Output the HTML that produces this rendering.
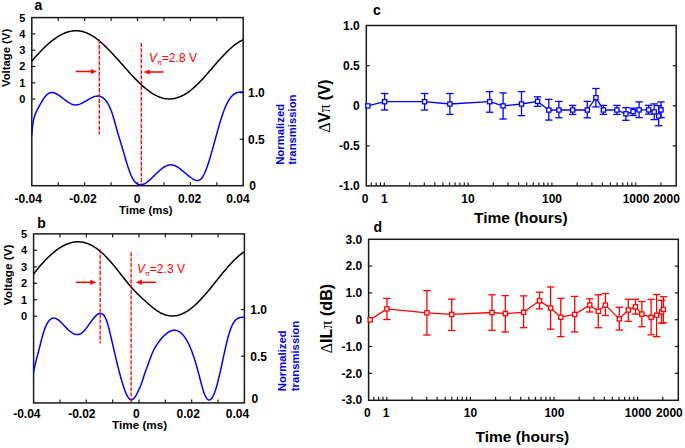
<!DOCTYPE html>
<html><head><meta charset="utf-8"><style>
html,body{margin:0;padding:0;background:#fff;}
body{width:685px;height:448px;overflow:hidden;}
svg{display:block;font-family:"Liberation Sans", sans-serif;}
</style></head><body>
<svg width="685" height="448" viewBox="0 0 685 448">
<rect width="685" height="448" fill="#fff"/>
<rect x="31.80" y="17.60" width="211.40" height="168.10" fill="none" stroke="#1a1a1a" stroke-width="1.5"/>
<line x1="58.22" y1="17.60" x2="58.22" y2="21.10" stroke="#1a1a1a" stroke-width="1.2" />
<line x1="58.22" y1="185.70" x2="58.22" y2="182.20" stroke="#1a1a1a" stroke-width="1.2" />
<line x1="84.65" y1="17.60" x2="84.65" y2="21.10" stroke="#1a1a1a" stroke-width="1.2" />
<line x1="84.65" y1="185.70" x2="84.65" y2="182.20" stroke="#1a1a1a" stroke-width="1.2" />
<line x1="111.07" y1="17.60" x2="111.07" y2="21.10" stroke="#1a1a1a" stroke-width="1.2" />
<line x1="111.07" y1="185.70" x2="111.07" y2="182.20" stroke="#1a1a1a" stroke-width="1.2" />
<line x1="137.50" y1="17.60" x2="137.50" y2="21.10" stroke="#1a1a1a" stroke-width="1.2" />
<line x1="137.50" y1="185.70" x2="137.50" y2="182.20" stroke="#1a1a1a" stroke-width="1.2" />
<line x1="163.93" y1="17.60" x2="163.93" y2="21.10" stroke="#1a1a1a" stroke-width="1.2" />
<line x1="163.93" y1="185.70" x2="163.93" y2="182.20" stroke="#1a1a1a" stroke-width="1.2" />
<line x1="190.35" y1="17.60" x2="190.35" y2="21.10" stroke="#1a1a1a" stroke-width="1.2" />
<line x1="190.35" y1="185.70" x2="190.35" y2="182.20" stroke="#1a1a1a" stroke-width="1.2" />
<line x1="216.77" y1="17.60" x2="216.77" y2="21.10" stroke="#1a1a1a" stroke-width="1.2" />
<line x1="216.77" y1="185.70" x2="216.77" y2="182.20" stroke="#1a1a1a" stroke-width="1.2" />
<line x1="31.80" y1="99.10" x2="35.30" y2="99.10" stroke="#1a1a1a" stroke-width="1.2" />
<text x="25.30" y="103.00" font-size="11" font-weight="bold" text-anchor="end" fill="#000000" >0</text>
<line x1="31.80" y1="82.80" x2="35.30" y2="82.80" stroke="#1a1a1a" stroke-width="1.2" />
<text x="25.30" y="86.70" font-size="11" font-weight="bold" text-anchor="end" fill="#000000" >1</text>
<line x1="31.80" y1="66.50" x2="35.30" y2="66.50" stroke="#1a1a1a" stroke-width="1.2" />
<text x="25.30" y="70.40" font-size="11" font-weight="bold" text-anchor="end" fill="#000000" >2</text>
<line x1="31.80" y1="50.20" x2="35.30" y2="50.20" stroke="#1a1a1a" stroke-width="1.2" />
<text x="25.30" y="54.10" font-size="11" font-weight="bold" text-anchor="end" fill="#000000" >3</text>
<line x1="31.80" y1="33.90" x2="35.30" y2="33.90" stroke="#1a1a1a" stroke-width="1.2" />
<text x="25.30" y="37.80" font-size="11" font-weight="bold" text-anchor="end" fill="#000000" >4</text>
<text x="25.30" y="21.50" font-size="11" font-weight="bold" text-anchor="end" fill="#000000" >5</text>
<line x1="243.20" y1="92.70" x2="239.70" y2="92.70" stroke="#1a1a1a" stroke-width="1.2" />
<text x="248.00" y="96.70" font-size="12" font-weight="bold" text-anchor="start" fill="#000000" >1.0</text>
<line x1="243.20" y1="139.20" x2="239.70" y2="139.20" stroke="#1a1a1a" stroke-width="1.2" />
<text x="248.00" y="143.70" font-size="12" font-weight="bold" text-anchor="start" fill="#000000" >0.5</text>
<text x="249.20" y="190.20" font-size="12" font-weight="bold" text-anchor="start" fill="#000000" >0</text>
<text x="28.30" y="202.60" font-size="12" font-weight="bold" text-anchor="middle" fill="#000000" >-0.04</text>
<text x="83.00" y="202.60" font-size="12" font-weight="bold" text-anchor="middle" fill="#000000" >-0.02</text>
<text x="137.10" y="202.60" font-size="12" font-weight="bold" text-anchor="middle" fill="#000000" >0</text>
<text x="189.60" y="202.60" font-size="12" font-weight="bold" text-anchor="middle" fill="#000000" >0.02</text>
<text x="237.90" y="202.60" font-size="12" font-weight="bold" text-anchor="middle" fill="#000000" >0.04</text>
<path d="M31.80,61.15 L33.21,59.49 L34.62,57.85 L36.03,56.25 L37.44,54.69 L38.85,53.15 L40.26,51.66 L41.67,50.20 L43.07,48.78 L44.48,47.40 L45.89,46.06 L47.30,44.77 L48.71,43.53 L50.12,42.33 L51.53,41.18 L52.94,40.08 L54.35,39.04 L55.76,38.04 L57.17,37.11 L58.58,36.23 L59.99,35.40 L61.40,34.64 L62.81,33.94 L64.21,33.31 L65.62,32.74 L67.03,32.23 L68.44,31.80 L69.85,31.43 L71.26,31.13 L72.67,30.91 L74.08,30.77 L75.49,30.69 L76.90,30.70 L78.31,30.79 L79.72,30.95 L81.13,31.20 L82.54,31.52 L83.95,31.92 L85.35,32.40 L86.76,32.95 L88.17,33.57 L89.58,34.26 L90.99,35.03 L92.40,35.86 L93.81,36.76 L95.22,37.73 L96.63,38.76 L98.04,39.86 L99.45,41.01 L100.86,42.21 L102.27,43.47 L103.68,44.77 L105.09,46.11 L106.49,47.49 L107.90,48.91 L109.31,50.35 L110.72,51.83 L112.13,53.33 L113.54,54.85 L114.95,56.39 L116.36,57.95 L117.77,59.51 L119.18,61.09 L120.59,62.68 L122.00,64.26 L123.41,65.85 L124.82,67.44 L126.23,69.01 L127.63,70.58 L129.04,72.14 L130.45,73.68 L131.86,75.20 L133.27,76.70 L134.68,78.18 L136.09,79.63 L137.50,81.04 L138.91,82.43 L140.32,83.77 L141.73,85.08 L143.14,86.34 L144.55,87.56 L145.96,88.74 L147.37,89.86 L148.77,90.93 L150.18,91.94 L151.59,92.89 L153.00,93.78 L154.41,94.61 L155.82,95.37 L157.23,96.06 L158.64,96.69 L160.05,97.24 L161.46,97.71 L162.87,98.11 L164.28,98.43 L165.69,98.67 L167.10,98.83 L168.51,98.91 L169.91,98.92 L171.32,98.84 L172.73,98.69 L174.14,98.46 L175.55,98.16 L176.96,97.78 L178.37,97.33 L179.78,96.81 L181.19,96.21 L182.60,95.54 L184.01,94.79 L185.42,93.98 L186.83,93.09 L188.24,92.14 L189.65,91.11 L191.05,90.02 L192.46,88.86 L193.87,87.64 L195.28,86.36 L196.69,85.02 L198.10,83.64 L199.51,82.21 L200.92,80.74 L202.33,79.24 L203.74,77.71 L205.15,76.14 L206.56,74.56 L207.97,72.95 L209.38,71.34 L210.79,69.71 L212.19,68.08 L213.60,66.45 L215.01,64.82 L216.42,63.20 L217.83,61.59 L219.24,60.01 L220.65,58.44 L222.06,56.90 L223.47,55.38 L224.88,53.91 L226.29,52.47 L227.70,51.07 L229.11,49.73 L230.52,48.44 L231.93,47.20 L233.33,46.02 L234.74,44.91 L236.15,43.87 L237.56,42.91 L238.97,42.02 L240.38,41.22 L241.79,40.51 L243.20,39.88" fill="none" stroke="#000000" stroke-width="1.5" stroke-linejoin="round"/>
<path d="M31.80,134.71 L32.50,126.73 L33.21,121.68 L33.91,118.44 L34.62,115.99 L35.32,113.99 L36.03,112.31 L36.73,110.86 L37.44,109.51 L38.14,108.18 L38.85,106.85 L39.55,105.54 L40.26,104.25 L40.96,102.99 L41.67,101.77 L42.37,100.60 L43.07,99.48 L43.78,98.42 L44.48,97.43 L45.19,96.52 L45.89,95.69 L46.60,94.95 L47.30,94.32 L48.01,93.78 L48.71,93.35 L49.42,93.02 L50.12,92.78 L50.83,92.62 L51.53,92.54 L52.24,92.54 L52.94,92.61 L53.64,92.75 L54.35,92.95 L55.05,93.20 L55.76,93.50 L56.46,93.85 L57.17,94.24 L57.87,94.66 L58.58,95.12 L59.28,95.60 L59.99,96.10 L60.69,96.62 L61.40,97.15 L62.10,97.68 L62.81,98.23 L63.51,98.78 L64.21,99.32 L64.92,99.86 L65.62,100.39 L66.33,100.91 L67.03,101.41 L67.74,101.90 L68.44,102.36 L69.15,102.79 L69.85,103.20 L70.56,103.57 L71.26,103.90 L71.97,104.20 L72.67,104.44 L73.38,104.65 L74.08,104.79 L74.78,104.89 L75.49,104.93 L76.19,104.91 L76.90,104.84 L77.60,104.72 L78.31,104.56 L79.01,104.36 L79.72,104.12 L80.42,103.85 L81.13,103.55 L81.83,103.22 L82.54,102.87 L83.24,102.49 L83.95,102.10 L84.65,101.70 L85.35,101.29 L86.06,100.87 L86.76,100.45 L87.47,100.02 L88.17,99.61 L88.88,99.19 L89.58,98.79 L90.29,98.41 L90.99,98.04 L91.70,97.69 L92.40,97.37 L93.11,97.07 L93.81,96.81 L94.52,96.58 L95.22,96.39 L95.92,96.24 L96.63,96.14 L97.33,96.08 L98.04,96.08 L98.74,96.13 L99.45,96.24 L100.15,96.41 L100.86,96.65 L101.56,96.95 L102.27,97.33 L102.97,97.79 L103.68,98.32 L104.38,98.95 L105.09,99.66 L105.79,100.48 L106.49,101.40 L107.20,102.43 L107.90,103.58 L108.61,104.86 L109.31,106.27 L110.02,107.82 L110.72,109.51 L111.43,111.35 L112.13,113.35 L112.84,115.52 L113.54,117.85 L114.25,120.31 L114.95,122.86 L115.66,125.44 L116.36,128.01 L117.06,130.51 L117.77,132.93 L118.47,135.26 L119.18,137.55 L119.88,139.82 L120.59,142.11 L121.29,144.43 L122.00,146.81 L122.70,149.22 L123.41,151.66 L124.11,154.10 L124.82,156.54 L125.52,158.95 L126.23,161.32 L126.93,163.63 L127.63,165.87 L128.34,168.02 L129.04,170.08 L129.75,172.01 L130.45,173.81 L131.16,175.46 L131.86,176.96 L132.57,178.30 L133.27,179.49 L133.98,180.54 L134.68,181.46 L135.39,182.25 L136.09,182.92 L136.80,183.47 L137.50,183.92 L138.20,184.27 L138.91,184.52 L139.61,184.68 L140.32,184.76 L141.02,184.76 L141.73,184.68 L142.43,184.54 L143.14,184.33 L143.84,184.06 L144.55,183.73 L145.25,183.35 L145.96,182.92 L146.66,182.44 L147.37,181.92 L148.07,181.37 L148.77,180.78 L149.48,180.17 L150.18,179.53 L150.89,178.87 L151.59,178.19 L152.30,177.50 L153.00,176.81 L153.71,176.11 L154.41,175.41 L155.12,174.71 L155.82,174.02 L156.53,173.34 L157.23,172.67 L157.94,172.00 L158.64,171.36 L159.34,170.73 L160.05,170.12 L160.75,169.53 L161.46,168.96 L162.16,168.42 L162.87,167.91 L163.57,167.43 L164.28,166.98 L164.98,166.57 L165.69,166.20 L166.39,165.86 L167.10,165.57 L167.80,165.32 L168.51,165.12 L169.21,164.96 L169.91,164.86 L170.62,164.81 L171.32,164.82 L172.03,164.89 L172.73,165.01 L173.44,165.18 L174.14,165.40 L174.85,165.67 L175.55,165.98 L176.26,166.33 L176.96,166.72 L177.67,167.14 L178.37,167.60 L179.08,168.08 L179.78,168.59 L180.48,169.12 L181.19,169.67 L181.89,170.23 L182.60,170.81 L183.30,171.40 L184.01,172.00 L184.71,172.61 L185.42,173.21 L186.12,173.81 L186.83,174.41 L187.53,175.00 L188.24,175.59 L188.94,176.15 L189.65,176.71 L190.35,177.24 L191.05,177.75 L191.76,178.24 L192.46,178.70 L193.17,179.12 L193.87,179.52 L194.58,179.86 L195.28,180.15 L195.99,180.37 L196.69,180.51 L197.40,180.56 L198.10,180.50 L198.81,180.32 L199.51,180.02 L200.22,179.58 L200.92,178.98 L201.62,178.22 L202.33,177.28 L203.03,176.17 L203.74,174.90 L204.44,173.47 L205.15,171.90 L205.85,170.19 L206.56,168.35 L207.26,166.41 L207.97,164.35 L208.67,162.21 L209.38,159.97 L210.08,157.67 L210.79,155.29 L211.49,152.86 L212.19,150.38 L212.90,147.86 L213.60,145.31 L214.31,142.74 L215.01,140.16 L215.72,137.58 L216.42,135.01 L217.13,132.45 L217.83,129.92 L218.54,127.43 L219.24,124.99 L219.95,122.61 L220.65,120.31 L221.36,118.09 L222.06,115.95 L222.76,113.90 L223.47,111.94 L224.17,110.07 L224.88,108.30 L225.58,106.62 L226.29,105.04 L226.99,103.55 L227.70,102.17 L228.40,100.89 L229.11,99.72 L229.81,98.65 L230.52,97.68 L231.22,96.81 L231.93,96.02 L232.63,95.32 L233.33,94.71 L234.04,94.17 L234.74,93.70 L235.45,93.30 L236.15,92.97 L236.86,92.69 L237.56,92.47 L238.27,92.30 L238.97,92.18 L239.68,92.09 L240.38,92.04 L241.09,92.03 L241.79,92.04 L242.50,92.07 L243.20,92.12" fill="none" stroke="#0000ff" stroke-width="1.5" stroke-linejoin="round"/>
<line x1="99.30" y1="39.50" x2="99.30" y2="134.20" stroke="#ff0000" stroke-width="1.3" stroke-dasharray="4,1.4"/>
<line x1="141.30" y1="42.90" x2="141.30" y2="185.00" stroke="#ff0000" stroke-width="1.3" stroke-dasharray="4,1.4"/>
<line x1="75.90" y1="71.50" x2="91.40" y2="71.50" stroke="#ff0000" stroke-width="1.5" />
<path d="M96.90,71.50 L90.90,68.90 L90.90,74.10 Z" fill="#ff0000"/>
<line x1="163.60" y1="72.00" x2="149.10" y2="72.00" stroke="#ff0000" stroke-width="1.5" />
<path d="M143.60,72.00 L149.60,69.40 L149.60,74.60 Z" fill="#ff0000"/>
<text x="34.40" y="9.70" font-size="14" font-weight="bold" text-anchor="start" fill="#000000" >a</text>
<text x="149.00" y="62.00" font-size="12" fill="#ff0000"><tspan font-style="italic">V</tspan><tspan font-size="7" dy="3">&#960;</tspan><tspan dy="-3">=2.8 V</tspan></text>
<text x="119.00" y="214.00" font-size="11.4" font-weight="bold" text-anchor="start" fill="#000000" >Time (ms)</text>
<text transform="translate(10.10,87.00) rotate(-90)" font-size="11.3" font-weight="bold" fill="#000000">Voltage (V)</text>
<text transform="translate(283.50,164.80) rotate(-90)" font-size="11.3" font-weight="bold" fill="#0000ff">Normalized</text>
<text transform="translate(295.70,164.80) rotate(-90)" font-size="11.3" font-weight="bold" fill="#0000ff">transmission</text>
<rect x="33.60" y="233.90" width="210.80" height="169.00" fill="none" stroke="#1a1a1a" stroke-width="1.5"/>
<line x1="59.95" y1="233.90" x2="59.95" y2="237.40" stroke="#1a1a1a" stroke-width="1.2" />
<line x1="59.95" y1="402.90" x2="59.95" y2="399.40" stroke="#1a1a1a" stroke-width="1.2" />
<line x1="86.30" y1="233.90" x2="86.30" y2="237.40" stroke="#1a1a1a" stroke-width="1.2" />
<line x1="86.30" y1="402.90" x2="86.30" y2="399.40" stroke="#1a1a1a" stroke-width="1.2" />
<line x1="112.65" y1="233.90" x2="112.65" y2="237.40" stroke="#1a1a1a" stroke-width="1.2" />
<line x1="112.65" y1="402.90" x2="112.65" y2="399.40" stroke="#1a1a1a" stroke-width="1.2" />
<line x1="139.00" y1="233.90" x2="139.00" y2="237.40" stroke="#1a1a1a" stroke-width="1.2" />
<line x1="139.00" y1="402.90" x2="139.00" y2="399.40" stroke="#1a1a1a" stroke-width="1.2" />
<line x1="165.35" y1="233.90" x2="165.35" y2="237.40" stroke="#1a1a1a" stroke-width="1.2" />
<line x1="165.35" y1="402.90" x2="165.35" y2="399.40" stroke="#1a1a1a" stroke-width="1.2" />
<line x1="191.70" y1="233.90" x2="191.70" y2="237.40" stroke="#1a1a1a" stroke-width="1.2" />
<line x1="191.70" y1="402.90" x2="191.70" y2="399.40" stroke="#1a1a1a" stroke-width="1.2" />
<line x1="218.05" y1="233.90" x2="218.05" y2="237.40" stroke="#1a1a1a" stroke-width="1.2" />
<line x1="218.05" y1="402.90" x2="218.05" y2="399.40" stroke="#1a1a1a" stroke-width="1.2" />
<line x1="33.60" y1="316.20" x2="37.10" y2="316.20" stroke="#1a1a1a" stroke-width="1.2" />
<text x="27.20" y="320.10" font-size="11" font-weight="bold" text-anchor="end" fill="#000000" >0</text>
<line x1="33.60" y1="299.74" x2="37.10" y2="299.74" stroke="#1a1a1a" stroke-width="1.2" />
<text x="27.20" y="303.64" font-size="11" font-weight="bold" text-anchor="end" fill="#000000" >1</text>
<line x1="33.60" y1="283.28" x2="37.10" y2="283.28" stroke="#1a1a1a" stroke-width="1.2" />
<text x="27.20" y="287.18" font-size="11" font-weight="bold" text-anchor="end" fill="#000000" >2</text>
<line x1="33.60" y1="266.82" x2="37.10" y2="266.82" stroke="#1a1a1a" stroke-width="1.2" />
<text x="27.20" y="270.72" font-size="11" font-weight="bold" text-anchor="end" fill="#000000" >3</text>
<line x1="33.60" y1="250.36" x2="37.10" y2="250.36" stroke="#1a1a1a" stroke-width="1.2" />
<text x="27.20" y="254.26" font-size="11" font-weight="bold" text-anchor="end" fill="#000000" >4</text>
<text x="27.20" y="237.80" font-size="11" font-weight="bold" text-anchor="end" fill="#000000" >5</text>
<line x1="244.40" y1="309.50" x2="240.90" y2="309.50" stroke="#1a1a1a" stroke-width="1.2" />
<text x="250.30" y="313.50" font-size="12" font-weight="bold" text-anchor="start" fill="#000000" >1.0</text>
<line x1="244.40" y1="356.20" x2="240.90" y2="356.20" stroke="#1a1a1a" stroke-width="1.2" />
<text x="250.30" y="361.20" font-size="12" font-weight="bold" text-anchor="start" fill="#000000" >0.5</text>
<text x="251.50" y="402.70" font-size="12" font-weight="bold" text-anchor="start" fill="#000000" >0</text>
<text x="26.85" y="417.60" font-size="12" font-weight="bold" text-anchor="middle" fill="#000000" >-0.04</text>
<text x="81.85" y="417.60" font-size="12" font-weight="bold" text-anchor="middle" fill="#000000" >-0.02</text>
<text x="136.30" y="417.60" font-size="12" font-weight="bold" text-anchor="middle" fill="#000000" >0</text>
<text x="188.25" y="417.60" font-size="12" font-weight="bold" text-anchor="middle" fill="#000000" >0.02</text>
<text x="237.55" y="417.60" font-size="12" font-weight="bold" text-anchor="middle" fill="#000000" >0.04</text>
<path d="M33.60,274.03 L35.01,272.21 L36.41,270.44 L37.82,268.70 L39.22,267.01 L40.63,265.36 L42.03,263.76 L43.44,262.20 L44.84,260.69 L46.25,259.23 L47.65,257.82 L49.06,256.46 L50.46,255.15 L51.87,253.90 L53.27,252.70 L54.68,251.55 L56.09,250.47 L57.49,249.44 L58.90,248.47 L60.30,247.56 L61.71,246.71 L63.11,245.93 L64.52,245.21 L65.92,244.56 L67.33,243.97 L68.73,243.45 L70.14,243.00 L71.54,242.62 L72.95,242.31 L74.35,242.07 L75.76,241.91 L77.17,241.82 L78.57,241.81 L79.98,241.88 L81.38,242.02 L82.79,242.25 L84.19,242.54 L85.60,242.92 L87.00,243.37 L88.41,243.90 L89.81,244.50 L91.22,245.18 L92.62,245.94 L94.03,246.77 L95.43,247.67 L96.84,248.65 L98.25,249.70 L99.65,250.82 L101.06,252.00 L102.46,253.26 L103.87,254.57 L105.27,255.95 L106.68,257.39 L108.08,258.89 L109.49,260.44 L110.89,262.05 L112.30,263.69 L113.70,265.38 L115.11,267.10 L116.51,268.84 L117.92,270.61 L119.33,272.39 L120.73,274.17 L122.14,275.96 L123.54,277.74 L124.95,279.51 L126.35,281.26 L127.76,282.99 L129.16,284.70 L130.57,286.36 L131.97,287.98 L133.38,289.56 L134.78,291.08 L136.19,292.54 L137.59,293.95 L139.00,295.32 L140.41,296.65 L141.81,297.95 L143.22,299.23 L144.62,300.50 L146.03,301.77 L147.43,303.03 L148.84,304.26 L150.24,305.47 L151.65,306.64 L153.05,307.77 L154.46,308.84 L155.86,309.87 L157.27,310.83 L158.67,311.72 L160.08,312.54 L161.49,313.28 L162.89,313.93 L164.30,314.49 L165.70,314.96 L167.11,315.34 L168.51,315.62 L169.92,315.82 L171.32,315.92 L172.73,315.94 L174.13,315.86 L175.54,315.71 L176.94,315.46 L178.35,315.14 L179.75,314.72 L181.16,314.23 L182.57,313.65 L183.97,313.00 L185.38,312.26 L186.78,311.44 L188.19,310.55 L189.59,309.58 L191.00,308.53 L192.40,307.41 L193.81,306.22 L195.21,304.97 L196.62,303.65 L198.02,302.27 L199.43,300.84 L200.83,299.36 L202.24,297.84 L203.65,296.27 L205.05,294.67 L206.46,293.03 L207.86,291.36 L209.27,289.67 L210.67,287.96 L212.08,286.24 L213.48,284.50 L214.89,282.75 L216.29,281.00 L217.70,279.25 L219.10,277.50 L220.51,275.77 L221.91,274.04 L223.32,272.34 L224.73,270.65 L226.13,268.99 L227.54,267.36 L228.94,265.76 L230.35,264.20 L231.75,262.68 L233.16,261.21 L234.56,259.79 L235.97,258.42 L237.37,257.11 L238.78,255.86 L240.18,254.68 L241.59,253.57 L242.99,252.54 L244.40,251.59" fill="none" stroke="#000000" stroke-width="1.5" stroke-linejoin="round"/>
<path d="M33.60,372.42 L34.30,368.65 L35.01,365.29 L35.71,362.25 L36.41,359.44 L37.11,356.78 L37.82,354.18 L38.52,351.56 L39.22,348.82 L39.92,345.97 L40.63,343.09 L41.33,340.27 L42.03,337.60 L42.73,335.09 L43.44,332.75 L44.14,330.60 L44.84,328.63 L45.55,326.87 L46.25,325.28 L46.95,323.88 L47.65,322.65 L48.36,321.59 L49.06,320.68 L49.76,319.92 L50.46,319.30 L51.17,318.83 L51.87,318.47 L52.57,318.24 L53.27,318.12 L53.98,318.11 L54.68,318.20 L55.38,318.38 L56.09,318.64 L56.79,318.98 L57.49,319.39 L58.19,319.87 L58.90,320.41 L59.60,320.99 L60.30,321.62 L61.00,322.29 L61.71,322.99 L62.41,323.71 L63.11,324.45 L63.81,325.20 L64.52,325.95 L65.22,326.69 L65.92,327.43 L66.63,328.15 L67.33,328.85 L68.03,329.53 L68.73,330.17 L69.44,330.79 L70.14,331.37 L70.84,331.92 L71.54,332.42 L72.25,332.88 L72.95,333.30 L73.65,333.66 L74.35,333.97 L75.06,334.22 L75.76,334.40 L76.46,334.53 L77.17,334.58 L77.87,334.57 L78.57,334.48 L79.27,334.31 L79.98,334.07 L80.68,333.73 L81.38,333.31 L82.08,332.80 L82.79,332.20 L83.49,331.53 L84.19,330.79 L84.89,329.99 L85.60,329.13 L86.30,328.23 L87.00,327.29 L87.71,326.33 L88.41,325.34 L89.11,324.35 L89.81,323.35 L90.52,322.35 L91.22,321.36 L91.92,320.40 L92.62,319.46 L93.33,318.57 L94.03,317.71 L94.73,316.91 L95.43,316.17 L96.14,315.50 L96.84,314.91 L97.54,314.40 L98.25,313.99 L98.95,313.67 L99.65,313.47 L100.35,313.39 L101.06,313.43 L101.76,313.62 L102.46,313.98 L103.16,314.53 L103.87,315.29 L104.57,316.29 L105.27,317.53 L105.97,319.05 L106.68,320.86 L107.38,322.97 L108.08,325.35 L108.79,327.95 L109.49,330.73 L110.19,333.64 L110.89,336.65 L111.60,339.71 L112.30,342.78 L113.00,345.84 L113.70,348.90 L114.41,351.93 L115.11,354.94 L115.81,357.92 L116.51,360.85 L117.22,363.75 L117.92,366.59 L118.62,369.37 L119.33,372.08 L120.03,374.72 L120.73,377.28 L121.43,379.76 L122.14,382.14 L122.84,384.42 L123.54,386.59 L124.24,388.64 L124.95,390.57 L125.65,392.35 L126.35,393.97 L127.05,395.43 L127.76,396.70 L128.46,397.78 L129.16,398.65 L129.87,399.30 L130.57,399.71 L131.27,399.88 L131.97,399.80 L132.68,399.48 L133.38,398.95 L134.08,398.23 L134.78,397.33 L135.49,396.27 L136.19,395.09 L136.89,393.79 L137.59,392.40 L138.30,390.94 L139.00,389.43 L139.70,387.88 L140.41,386.25 L141.11,384.49 L141.81,382.56 L142.51,380.45 L143.22,378.23 L143.92,376.00 L144.62,373.87 L145.32,371.85 L146.03,369.92 L146.73,368.03 L147.43,366.16 L148.13,364.25 L148.84,362.30 L149.54,360.33 L150.24,358.38 L150.95,356.48 L151.65,354.69 L152.35,353.02 L153.05,351.46 L153.76,350.02 L154.46,348.67 L155.16,347.42 L155.86,346.24 L156.57,345.13 L157.27,344.08 L157.97,343.08 L158.67,342.12 L159.38,341.19 L160.08,340.29 L160.78,339.41 L161.49,338.57 L162.19,337.76 L162.89,336.98 L163.59,336.24 L164.30,335.54 L165.00,334.87 L165.70,334.24 L166.40,333.65 L167.11,333.10 L167.81,332.60 L168.51,332.14 L169.21,331.73 L169.92,331.36 L170.62,331.05 L171.32,330.78 L172.03,330.57 L172.73,330.40 L173.43,330.29 L174.13,330.24 L174.84,330.25 L175.54,330.31 L176.24,330.43 L176.94,330.62 L177.65,330.86 L178.35,331.17 L179.05,331.55 L179.75,331.99 L180.46,332.50 L181.16,333.08 L181.86,333.73 L182.57,334.46 L183.27,335.25 L183.97,336.12 L184.67,337.07 L185.38,338.10 L186.08,339.20 L186.78,340.38 L187.48,341.65 L188.19,343.00 L188.89,344.44 L189.59,345.96 L190.29,347.56 L191.00,349.26 L191.70,351.05 L192.40,352.92 L193.11,354.89 L193.81,356.96 L194.51,359.12 L195.21,361.37 L195.92,363.70 L196.62,366.12 L197.32,368.63 L198.02,371.20 L198.73,373.86 L199.43,376.56 L200.13,379.28 L200.83,381.98 L201.54,384.61 L202.24,387.15 L202.94,389.54 L203.65,391.76 L204.35,393.76 L205.05,395.51 L205.75,396.98 L206.46,398.15 L207.16,399.04 L207.86,399.65 L208.56,399.99 L209.27,400.06 L209.97,399.88 L210.67,399.44 L211.37,398.75 L212.08,397.82 L212.78,396.66 L213.48,395.26 L214.19,393.64 L214.89,391.80 L215.59,389.75 L216.29,387.50 L217.00,385.05 L217.70,382.41 L218.40,379.63 L219.10,376.71 L219.81,373.67 L220.51,370.55 L221.21,367.36 L221.91,364.12 L222.62,360.86 L223.32,357.60 L224.02,354.35 L224.73,351.15 L225.43,348.02 L226.13,344.97 L226.83,342.03 L227.54,339.22 L228.24,336.56 L228.94,334.08 L229.64,331.79 L230.35,329.72 L231.05,327.86 L231.75,326.20 L232.45,324.72 L233.16,323.42 L233.86,322.29 L234.56,321.30 L235.27,320.46 L235.97,319.75 L236.67,319.16 L237.37,318.67 L238.08,318.28 L238.78,317.98 L239.48,317.75 L240.18,317.57 L240.89,317.45 L241.59,317.37 L242.29,317.31 L242.99,317.27 L243.70,317.24 L244.40,317.19" fill="none" stroke="#0000ff" stroke-width="1.5" stroke-linejoin="round"/>
<line x1="100.20" y1="249.40" x2="100.20" y2="343.40" stroke="#ff0000" stroke-width="1.3" stroke-dasharray="4,1.4"/>
<line x1="131.10" y1="252.20" x2="131.10" y2="402.00" stroke="#ff0000" stroke-width="1.3" stroke-dasharray="4,1.4"/>
<line x1="75.90" y1="282.30" x2="90.80" y2="282.30" stroke="#ff0000" stroke-width="1.5" />
<path d="M96.30,282.30 L90.30,279.70 L90.30,284.90 Z" fill="#ff0000"/>
<line x1="156.20" y1="282.30" x2="141.30" y2="282.30" stroke="#ff0000" stroke-width="1.5" />
<path d="M135.80,282.30 L141.80,279.70 L141.80,284.90 Z" fill="#ff0000"/>
<text x="37.30" y="228.00" font-size="14" font-weight="bold" text-anchor="start" fill="#000000" >b</text>
<text x="137.00" y="273.40" font-size="12" fill="#ff0000"><tspan font-style="italic">V</tspan><tspan font-size="7" dy="3">&#960;</tspan><tspan dy="-3">=2.3 V</tspan></text>
<text x="112.10" y="428.60" font-size="11.7" font-weight="bold" text-anchor="start" fill="#000000" >Time (ms)</text>
<text transform="translate(11.70,305.20) rotate(-90)" font-size="11.8" font-weight="bold" fill="#000000">Voltage (V)</text>
<text transform="translate(286.30,391.20) rotate(-90)" font-size="11.3" font-weight="bold" fill="#0000ff">Normalized</text>
<text transform="translate(298.50,391.20) rotate(-90)" font-size="11.3" font-weight="bold" fill="#0000ff">transmission</text>
<rect x="366.30" y="25.50" width="309.90" height="160.40" fill="none" stroke="#1a1a1a" stroke-width="1.5"/>
<line x1="371.32" y1="185.90" x2="371.32" y2="182.40" stroke="#1a1a1a" stroke-width="1.2" />
<line x1="376.18" y1="185.90" x2="376.18" y2="182.40" stroke="#1a1a1a" stroke-width="1.2" />
<line x1="380.47" y1="185.90" x2="380.47" y2="182.40" stroke="#1a1a1a" stroke-width="1.2" />
<line x1="384.30" y1="185.90" x2="384.30" y2="182.40" stroke="#1a1a1a" stroke-width="1.2" />
<line x1="409.53" y1="185.90" x2="409.53" y2="182.40" stroke="#1a1a1a" stroke-width="1.2" />
<line x1="424.28" y1="185.90" x2="424.28" y2="182.40" stroke="#1a1a1a" stroke-width="1.2" />
<line x1="434.75" y1="185.90" x2="434.75" y2="182.40" stroke="#1a1a1a" stroke-width="1.2" />
<line x1="442.87" y1="185.90" x2="442.87" y2="182.40" stroke="#1a1a1a" stroke-width="1.2" />
<line x1="449.51" y1="185.90" x2="449.51" y2="182.40" stroke="#1a1a1a" stroke-width="1.2" />
<line x1="455.12" y1="185.90" x2="455.12" y2="182.40" stroke="#1a1a1a" stroke-width="1.2" />
<line x1="459.98" y1="185.90" x2="459.98" y2="182.40" stroke="#1a1a1a" stroke-width="1.2" />
<line x1="464.27" y1="185.90" x2="464.27" y2="182.40" stroke="#1a1a1a" stroke-width="1.2" />
<line x1="468.10" y1="185.90" x2="468.10" y2="182.40" stroke="#1a1a1a" stroke-width="1.2" />
<line x1="493.33" y1="185.90" x2="493.33" y2="182.40" stroke="#1a1a1a" stroke-width="1.2" />
<line x1="508.08" y1="185.90" x2="508.08" y2="182.40" stroke="#1a1a1a" stroke-width="1.2" />
<line x1="518.55" y1="185.90" x2="518.55" y2="182.40" stroke="#1a1a1a" stroke-width="1.2" />
<line x1="526.67" y1="185.90" x2="526.67" y2="182.40" stroke="#1a1a1a" stroke-width="1.2" />
<line x1="533.31" y1="185.90" x2="533.31" y2="182.40" stroke="#1a1a1a" stroke-width="1.2" />
<line x1="538.92" y1="185.90" x2="538.92" y2="182.40" stroke="#1a1a1a" stroke-width="1.2" />
<line x1="543.78" y1="185.90" x2="543.78" y2="182.40" stroke="#1a1a1a" stroke-width="1.2" />
<line x1="548.07" y1="185.90" x2="548.07" y2="182.40" stroke="#1a1a1a" stroke-width="1.2" />
<line x1="551.90" y1="185.90" x2="551.90" y2="182.40" stroke="#1a1a1a" stroke-width="1.2" />
<line x1="577.13" y1="185.90" x2="577.13" y2="182.40" stroke="#1a1a1a" stroke-width="1.2" />
<line x1="591.88" y1="185.90" x2="591.88" y2="182.40" stroke="#1a1a1a" stroke-width="1.2" />
<line x1="602.35" y1="185.90" x2="602.35" y2="182.40" stroke="#1a1a1a" stroke-width="1.2" />
<line x1="610.47" y1="185.90" x2="610.47" y2="182.40" stroke="#1a1a1a" stroke-width="1.2" />
<line x1="617.11" y1="185.90" x2="617.11" y2="182.40" stroke="#1a1a1a" stroke-width="1.2" />
<line x1="622.72" y1="185.90" x2="622.72" y2="182.40" stroke="#1a1a1a" stroke-width="1.2" />
<line x1="627.58" y1="185.90" x2="627.58" y2="182.40" stroke="#1a1a1a" stroke-width="1.2" />
<line x1="631.87" y1="185.90" x2="631.87" y2="182.40" stroke="#1a1a1a" stroke-width="1.2" />
<line x1="635.70" y1="185.90" x2="635.70" y2="182.40" stroke="#1a1a1a" stroke-width="1.2" />
<line x1="660.93" y1="185.90" x2="660.93" y2="182.40" stroke="#1a1a1a" stroke-width="1.2" />
<line x1="366.30" y1="65.70" x2="369.80" y2="65.70" stroke="#1a1a1a" stroke-width="1.2" />
<line x1="676.20" y1="65.70" x2="672.70" y2="65.70" stroke="#1a1a1a" stroke-width="1.2" />
<line x1="366.30" y1="105.80" x2="369.80" y2="105.80" stroke="#1a1a1a" stroke-width="1.2" />
<line x1="676.20" y1="105.80" x2="672.70" y2="105.80" stroke="#1a1a1a" stroke-width="1.2" />
<line x1="366.30" y1="145.90" x2="369.80" y2="145.90" stroke="#1a1a1a" stroke-width="1.2" />
<line x1="676.20" y1="145.90" x2="672.70" y2="145.90" stroke="#1a1a1a" stroke-width="1.2" />
<text x="359.70" y="29.80" font-size="12" font-weight="bold" text-anchor="end" fill="#000000" >1.0</text>
<text x="359.70" y="69.90" font-size="12" font-weight="bold" text-anchor="end" fill="#000000" >0.5</text>
<text x="359.70" y="110.00" font-size="12" font-weight="bold" text-anchor="end" fill="#000000" >0</text>
<text x="359.70" y="150.10" font-size="12" font-weight="bold" text-anchor="end" fill="#000000" >-0.5</text>
<text x="359.70" y="190.20" font-size="12" font-weight="bold" text-anchor="end" fill="#000000" >-1.0</text>
<text x="365.00" y="202.90" font-size="12" font-weight="bold" text-anchor="middle" fill="#000000" >0</text>
<text x="384.30" y="202.90" font-size="12" font-weight="bold" text-anchor="middle" fill="#000000" >1</text>
<text x="468.00" y="202.90" font-size="12" font-weight="bold" text-anchor="middle" fill="#000000" >10</text>
<text x="552.00" y="202.90" font-size="12" font-weight="bold" text-anchor="middle" fill="#000000" >100</text>
<text x="636.00" y="202.90" font-size="12" font-weight="bold" text-anchor="middle" fill="#000000" >1000</text>
<text x="666.50" y="202.90" font-size="12" font-weight="bold" text-anchor="middle" fill="#000000" >2000</text>
<path d="M367.90,105.90 L384.60,101.70 L424.60,101.70 L449.90,104.00 L489.70,101.70 L503.10,105.90 L521.50,104.00 L537.60,101.40 L548.80,110.00 L558.90,110.00 L572.70,110.00 L587.30,110.00 L595.90,97.70 L603.40,110.00 L616.90,110.00 L625.90,113.80 L633.10,111.60 L639.10,109.90 L648.60,109.90 L654.20,111.90 L658.70,115.90 L661.00,109.90" fill="none" stroke="#0000ff" stroke-width="1.3" stroke-linejoin="round"/>
<line x1="384.60" y1="93.50" x2="384.60" y2="110.00" stroke="#0000ff" stroke-width="1.3" />
<line x1="380.90" y1="93.50" x2="388.30" y2="93.50" stroke="#0000ff" stroke-width="1.3" />
<line x1="380.90" y1="110.00" x2="388.30" y2="110.00" stroke="#0000ff" stroke-width="1.3" />
<line x1="424.60" y1="93.50" x2="424.60" y2="110.00" stroke="#0000ff" stroke-width="1.3" />
<line x1="420.90" y1="93.50" x2="428.30" y2="93.50" stroke="#0000ff" stroke-width="1.3" />
<line x1="420.90" y1="110.00" x2="428.30" y2="110.00" stroke="#0000ff" stroke-width="1.3" />
<line x1="449.90" y1="93.50" x2="449.90" y2="114.40" stroke="#0000ff" stroke-width="1.3" />
<line x1="446.20" y1="93.50" x2="453.60" y2="93.50" stroke="#0000ff" stroke-width="1.3" />
<line x1="446.20" y1="114.40" x2="453.60" y2="114.40" stroke="#0000ff" stroke-width="1.3" />
<line x1="489.70" y1="91.60" x2="489.70" y2="112.20" stroke="#0000ff" stroke-width="1.3" />
<line x1="486.00" y1="91.60" x2="493.40" y2="91.60" stroke="#0000ff" stroke-width="1.3" />
<line x1="486.00" y1="112.20" x2="493.40" y2="112.20" stroke="#0000ff" stroke-width="1.3" />
<line x1="503.10" y1="92.90" x2="503.10" y2="119.00" stroke="#0000ff" stroke-width="1.3" />
<line x1="499.40" y1="92.90" x2="506.80" y2="92.90" stroke="#0000ff" stroke-width="1.3" />
<line x1="499.40" y1="119.00" x2="506.80" y2="119.00" stroke="#0000ff" stroke-width="1.3" />
<line x1="521.50" y1="91.60" x2="521.50" y2="115.70" stroke="#0000ff" stroke-width="1.3" />
<line x1="517.80" y1="91.60" x2="525.20" y2="91.60" stroke="#0000ff" stroke-width="1.3" />
<line x1="517.80" y1="115.70" x2="525.20" y2="115.70" stroke="#0000ff" stroke-width="1.3" />
<line x1="537.60" y1="96.80" x2="537.60" y2="106.30" stroke="#0000ff" stroke-width="1.3" />
<line x1="533.90" y1="96.80" x2="541.30" y2="96.80" stroke="#0000ff" stroke-width="1.3" />
<line x1="533.90" y1="106.30" x2="541.30" y2="106.30" stroke="#0000ff" stroke-width="1.3" />
<line x1="548.80" y1="99.40" x2="548.80" y2="120.10" stroke="#0000ff" stroke-width="1.3" />
<line x1="545.10" y1="99.40" x2="552.50" y2="99.40" stroke="#0000ff" stroke-width="1.3" />
<line x1="545.10" y1="120.10" x2="552.50" y2="120.10" stroke="#0000ff" stroke-width="1.3" />
<line x1="558.90" y1="101.40" x2="558.90" y2="117.80" stroke="#0000ff" stroke-width="1.3" />
<line x1="555.20" y1="101.40" x2="562.60" y2="101.40" stroke="#0000ff" stroke-width="1.3" />
<line x1="555.20" y1="117.80" x2="562.60" y2="117.80" stroke="#0000ff" stroke-width="1.3" />
<line x1="572.70" y1="105.40" x2="572.70" y2="114.40" stroke="#0000ff" stroke-width="1.3" />
<line x1="569.00" y1="105.40" x2="576.40" y2="105.40" stroke="#0000ff" stroke-width="1.3" />
<line x1="569.00" y1="114.40" x2="576.40" y2="114.40" stroke="#0000ff" stroke-width="1.3" />
<line x1="587.30" y1="101.40" x2="587.30" y2="117.80" stroke="#0000ff" stroke-width="1.3" />
<line x1="583.60" y1="101.40" x2="591.00" y2="101.40" stroke="#0000ff" stroke-width="1.3" />
<line x1="583.60" y1="117.80" x2="591.00" y2="117.80" stroke="#0000ff" stroke-width="1.3" />
<line x1="595.90" y1="88.50" x2="595.90" y2="106.90" stroke="#0000ff" stroke-width="1.3" />
<line x1="592.20" y1="88.50" x2="599.60" y2="88.50" stroke="#0000ff" stroke-width="1.3" />
<line x1="592.20" y1="106.90" x2="599.60" y2="106.90" stroke="#0000ff" stroke-width="1.3" />
<line x1="603.40" y1="105.40" x2="603.40" y2="114.40" stroke="#0000ff" stroke-width="1.3" />
<line x1="599.70" y1="105.40" x2="607.10" y2="105.40" stroke="#0000ff" stroke-width="1.3" />
<line x1="599.70" y1="114.40" x2="607.10" y2="114.40" stroke="#0000ff" stroke-width="1.3" />
<line x1="616.90" y1="105.40" x2="616.90" y2="114.40" stroke="#0000ff" stroke-width="1.3" />
<line x1="613.20" y1="105.40" x2="620.60" y2="105.40" stroke="#0000ff" stroke-width="1.3" />
<line x1="613.20" y1="114.40" x2="620.60" y2="114.40" stroke="#0000ff" stroke-width="1.3" />
<line x1="625.90" y1="107.60" x2="625.90" y2="120.30" stroke="#0000ff" stroke-width="1.3" />
<line x1="622.20" y1="107.60" x2="629.60" y2="107.60" stroke="#0000ff" stroke-width="1.3" />
<line x1="622.20" y1="120.30" x2="629.60" y2="120.30" stroke="#0000ff" stroke-width="1.3" />
<line x1="633.10" y1="108.20" x2="633.10" y2="115.50" stroke="#0000ff" stroke-width="1.3" />
<line x1="629.40" y1="108.20" x2="636.80" y2="108.20" stroke="#0000ff" stroke-width="1.3" />
<line x1="629.40" y1="115.50" x2="636.80" y2="115.50" stroke="#0000ff" stroke-width="1.3" />
<line x1="639.10" y1="101.90" x2="639.10" y2="117.60" stroke="#0000ff" stroke-width="1.3" />
<line x1="635.40" y1="101.90" x2="642.80" y2="101.90" stroke="#0000ff" stroke-width="1.3" />
<line x1="635.40" y1="117.60" x2="642.80" y2="117.60" stroke="#0000ff" stroke-width="1.3" />
<line x1="648.60" y1="105.40" x2="648.60" y2="114.10" stroke="#0000ff" stroke-width="1.3" />
<line x1="644.90" y1="105.40" x2="652.30" y2="105.40" stroke="#0000ff" stroke-width="1.3" />
<line x1="644.90" y1="114.10" x2="652.30" y2="114.10" stroke="#0000ff" stroke-width="1.3" />
<line x1="654.20" y1="103.90" x2="654.20" y2="119.60" stroke="#0000ff" stroke-width="1.3" />
<line x1="650.50" y1="103.90" x2="657.90" y2="103.90" stroke="#0000ff" stroke-width="1.3" />
<line x1="650.50" y1="119.60" x2="657.90" y2="119.60" stroke="#0000ff" stroke-width="1.3" />
<line x1="658.70" y1="105.60" x2="658.70" y2="125.70" stroke="#0000ff" stroke-width="1.3" />
<line x1="655.00" y1="105.60" x2="662.40" y2="105.60" stroke="#0000ff" stroke-width="1.3" />
<line x1="655.00" y1="125.70" x2="662.40" y2="125.70" stroke="#0000ff" stroke-width="1.3" />
<line x1="661.00" y1="101.90" x2="661.00" y2="117.60" stroke="#0000ff" stroke-width="1.3" />
<line x1="657.30" y1="101.90" x2="664.70" y2="101.90" stroke="#0000ff" stroke-width="1.3" />
<line x1="657.30" y1="117.60" x2="664.70" y2="117.60" stroke="#0000ff" stroke-width="1.3" />
<rect x="365.80" y="103.80" width="4.2" height="4.2" fill="#fff" stroke="#0000ff" stroke-width="1.3"/>
<rect x="382.50" y="99.60" width="4.2" height="4.2" fill="#fff" stroke="#0000ff" stroke-width="1.3"/>
<rect x="422.50" y="99.60" width="4.2" height="4.2" fill="#fff" stroke="#0000ff" stroke-width="1.3"/>
<rect x="447.80" y="101.90" width="4.2" height="4.2" fill="#fff" stroke="#0000ff" stroke-width="1.3"/>
<rect x="487.60" y="99.60" width="4.2" height="4.2" fill="#fff" stroke="#0000ff" stroke-width="1.3"/>
<rect x="501.00" y="103.80" width="4.2" height="4.2" fill="#fff" stroke="#0000ff" stroke-width="1.3"/>
<rect x="519.40" y="101.90" width="4.2" height="4.2" fill="#fff" stroke="#0000ff" stroke-width="1.3"/>
<rect x="535.50" y="99.30" width="4.2" height="4.2" fill="#fff" stroke="#0000ff" stroke-width="1.3"/>
<rect x="546.70" y="107.90" width="4.2" height="4.2" fill="#fff" stroke="#0000ff" stroke-width="1.3"/>
<rect x="556.80" y="107.90" width="4.2" height="4.2" fill="#fff" stroke="#0000ff" stroke-width="1.3"/>
<rect x="570.60" y="107.90" width="4.2" height="4.2" fill="#fff" stroke="#0000ff" stroke-width="1.3"/>
<rect x="585.20" y="107.90" width="4.2" height="4.2" fill="#fff" stroke="#0000ff" stroke-width="1.3"/>
<rect x="593.80" y="95.60" width="4.2" height="4.2" fill="#fff" stroke="#0000ff" stroke-width="1.3"/>
<rect x="601.30" y="107.90" width="4.2" height="4.2" fill="#fff" stroke="#0000ff" stroke-width="1.3"/>
<rect x="614.80" y="107.90" width="4.2" height="4.2" fill="#fff" stroke="#0000ff" stroke-width="1.3"/>
<rect x="623.80" y="111.70" width="4.2" height="4.2" fill="#fff" stroke="#0000ff" stroke-width="1.3"/>
<rect x="631.00" y="109.50" width="4.2" height="4.2" fill="#fff" stroke="#0000ff" stroke-width="1.3"/>
<rect x="637.00" y="107.80" width="4.2" height="4.2" fill="#fff" stroke="#0000ff" stroke-width="1.3"/>
<rect x="646.50" y="107.80" width="4.2" height="4.2" fill="#fff" stroke="#0000ff" stroke-width="1.3"/>
<rect x="652.10" y="109.80" width="4.2" height="4.2" fill="#fff" stroke="#0000ff" stroke-width="1.3"/>
<rect x="656.60" y="113.80" width="4.2" height="4.2" fill="#fff" stroke="#0000ff" stroke-width="1.3"/>
<rect x="658.90" y="107.80" width="4.2" height="4.2" fill="#fff" stroke="#0000ff" stroke-width="1.3"/>
<text x="373.00" y="15.20" font-size="14" font-weight="bold" text-anchor="start" fill="#000000" >c</text>
<text x="474.00" y="222.80" font-size="15.5" font-weight="bold" text-anchor="start" fill="#000000" >Time (hours)</text>
<text transform="translate(330.30,132.60) rotate(-90) scale(1,1.06)" font-size="15.5" fill="#000000"><tspan font-family="Liberation Serif">&#916;</tspan><tspan font-weight="bold">V</tspan><tspan font-family="Liberation Serif">&#960;</tspan><tspan font-weight="bold"> (V)</tspan></text>
<rect x="368.60" y="239.30" width="309.70" height="161.00" fill="none" stroke="#1a1a1a" stroke-width="1.5"/>
<line x1="373.85" y1="400.30" x2="373.85" y2="396.80" stroke="#1a1a1a" stroke-width="1.2" />
<line x1="378.70" y1="400.30" x2="378.70" y2="396.80" stroke="#1a1a1a" stroke-width="1.2" />
<line x1="382.97" y1="400.30" x2="382.97" y2="396.80" stroke="#1a1a1a" stroke-width="1.2" />
<line x1="386.80" y1="400.30" x2="386.80" y2="396.80" stroke="#1a1a1a" stroke-width="1.2" />
<line x1="411.97" y1="400.30" x2="411.97" y2="396.80" stroke="#1a1a1a" stroke-width="1.2" />
<line x1="426.69" y1="400.30" x2="426.69" y2="396.80" stroke="#1a1a1a" stroke-width="1.2" />
<line x1="437.13" y1="400.30" x2="437.13" y2="396.80" stroke="#1a1a1a" stroke-width="1.2" />
<line x1="445.23" y1="400.30" x2="445.23" y2="396.80" stroke="#1a1a1a" stroke-width="1.2" />
<line x1="451.85" y1="400.30" x2="451.85" y2="396.80" stroke="#1a1a1a" stroke-width="1.2" />
<line x1="457.45" y1="400.30" x2="457.45" y2="396.80" stroke="#1a1a1a" stroke-width="1.2" />
<line x1="462.30" y1="400.30" x2="462.30" y2="396.80" stroke="#1a1a1a" stroke-width="1.2" />
<line x1="466.57" y1="400.30" x2="466.57" y2="396.80" stroke="#1a1a1a" stroke-width="1.2" />
<line x1="470.40" y1="400.30" x2="470.40" y2="396.80" stroke="#1a1a1a" stroke-width="1.2" />
<line x1="495.57" y1="400.30" x2="495.57" y2="396.80" stroke="#1a1a1a" stroke-width="1.2" />
<line x1="510.29" y1="400.30" x2="510.29" y2="396.80" stroke="#1a1a1a" stroke-width="1.2" />
<line x1="520.73" y1="400.30" x2="520.73" y2="396.80" stroke="#1a1a1a" stroke-width="1.2" />
<line x1="528.83" y1="400.30" x2="528.83" y2="396.80" stroke="#1a1a1a" stroke-width="1.2" />
<line x1="535.45" y1="400.30" x2="535.45" y2="396.80" stroke="#1a1a1a" stroke-width="1.2" />
<line x1="541.05" y1="400.30" x2="541.05" y2="396.80" stroke="#1a1a1a" stroke-width="1.2" />
<line x1="545.90" y1="400.30" x2="545.90" y2="396.80" stroke="#1a1a1a" stroke-width="1.2" />
<line x1="550.17" y1="400.30" x2="550.17" y2="396.80" stroke="#1a1a1a" stroke-width="1.2" />
<line x1="554.00" y1="400.30" x2="554.00" y2="396.80" stroke="#1a1a1a" stroke-width="1.2" />
<line x1="579.17" y1="400.30" x2="579.17" y2="396.80" stroke="#1a1a1a" stroke-width="1.2" />
<line x1="593.89" y1="400.30" x2="593.89" y2="396.80" stroke="#1a1a1a" stroke-width="1.2" />
<line x1="604.33" y1="400.30" x2="604.33" y2="396.80" stroke="#1a1a1a" stroke-width="1.2" />
<line x1="612.43" y1="400.30" x2="612.43" y2="396.80" stroke="#1a1a1a" stroke-width="1.2" />
<line x1="619.05" y1="400.30" x2="619.05" y2="396.80" stroke="#1a1a1a" stroke-width="1.2" />
<line x1="624.65" y1="400.30" x2="624.65" y2="396.80" stroke="#1a1a1a" stroke-width="1.2" />
<line x1="629.50" y1="400.30" x2="629.50" y2="396.80" stroke="#1a1a1a" stroke-width="1.2" />
<line x1="633.77" y1="400.30" x2="633.77" y2="396.80" stroke="#1a1a1a" stroke-width="1.2" />
<line x1="637.60" y1="400.30" x2="637.60" y2="396.80" stroke="#1a1a1a" stroke-width="1.2" />
<line x1="662.77" y1="400.30" x2="662.77" y2="396.80" stroke="#1a1a1a" stroke-width="1.2" />
<line x1="368.60" y1="266.10" x2="372.10" y2="266.10" stroke="#1a1a1a" stroke-width="1.2" />
<line x1="678.30" y1="266.10" x2="674.80" y2="266.10" stroke="#1a1a1a" stroke-width="1.2" />
<line x1="368.60" y1="292.90" x2="372.10" y2="292.90" stroke="#1a1a1a" stroke-width="1.2" />
<line x1="678.30" y1="292.90" x2="674.80" y2="292.90" stroke="#1a1a1a" stroke-width="1.2" />
<line x1="368.60" y1="319.70" x2="372.10" y2="319.70" stroke="#1a1a1a" stroke-width="1.2" />
<line x1="678.30" y1="319.70" x2="674.80" y2="319.70" stroke="#1a1a1a" stroke-width="1.2" />
<line x1="368.60" y1="346.50" x2="372.10" y2="346.50" stroke="#1a1a1a" stroke-width="1.2" />
<line x1="678.30" y1="346.50" x2="674.80" y2="346.50" stroke="#1a1a1a" stroke-width="1.2" />
<line x1="368.60" y1="373.30" x2="372.10" y2="373.30" stroke="#1a1a1a" stroke-width="1.2" />
<line x1="678.30" y1="373.30" x2="674.80" y2="373.30" stroke="#1a1a1a" stroke-width="1.2" />
<text x="362.20" y="243.50" font-size="12" font-weight="bold" text-anchor="end" fill="#000000" >3.0</text>
<text x="362.20" y="270.30" font-size="12" font-weight="bold" text-anchor="end" fill="#000000" >2.0</text>
<text x="362.20" y="297.10" font-size="12" font-weight="bold" text-anchor="end" fill="#000000" >1.0</text>
<text x="362.20" y="323.90" font-size="12" font-weight="bold" text-anchor="end" fill="#000000" >0</text>
<text x="362.20" y="350.70" font-size="12" font-weight="bold" text-anchor="end" fill="#000000" >-1.0</text>
<text x="362.20" y="377.50" font-size="12" font-weight="bold" text-anchor="end" fill="#000000" >-2.0</text>
<text x="362.20" y="404.30" font-size="12" font-weight="bold" text-anchor="end" fill="#000000" >-3.0</text>
<text x="367.30" y="417.30" font-size="12" font-weight="bold" text-anchor="middle" fill="#000000" >0</text>
<text x="386.00" y="417.30" font-size="12" font-weight="bold" text-anchor="middle" fill="#000000" >1</text>
<text x="470.40" y="417.30" font-size="12" font-weight="bold" text-anchor="middle" fill="#000000" >10</text>
<text x="554.40" y="417.30" font-size="12" font-weight="bold" text-anchor="middle" fill="#000000" >100</text>
<text x="638.20" y="417.30" font-size="12" font-weight="bold" text-anchor="middle" fill="#000000" >1000</text>
<text x="669.40" y="417.30" font-size="12" font-weight="bold" text-anchor="middle" fill="#000000" >2000</text>
<path d="M370.20,319.80 L386.90,308.90 L426.90,312.80 L451.70,314.40 L492.00,312.50 L505.30,313.60 L523.60,312.30 L539.50,300.80 L550.60,308.10 L560.80,317.20 L574.70,314.40 L589.70,305.00 L598.30,311.30 L605.40,305.10 L619.30,318.90 L628.30,310.00 L635.50,306.80 L641.80,314.10 L651.10,317.40 L656.60,315.20 L661.60,311.90 L663.40,309.40" fill="none" stroke="#ff0000" stroke-width="1.3" stroke-linejoin="round"/>
<line x1="386.90" y1="298.40" x2="386.90" y2="319.50" stroke="#ff0000" stroke-width="1.3" />
<line x1="383.20" y1="298.40" x2="390.60" y2="298.40" stroke="#ff0000" stroke-width="1.3" />
<line x1="383.20" y1="319.50" x2="390.60" y2="319.50" stroke="#ff0000" stroke-width="1.3" />
<line x1="426.90" y1="290.60" x2="426.90" y2="335.00" stroke="#ff0000" stroke-width="1.3" />
<line x1="423.20" y1="290.60" x2="430.60" y2="290.60" stroke="#ff0000" stroke-width="1.3" />
<line x1="423.20" y1="335.00" x2="430.60" y2="335.00" stroke="#ff0000" stroke-width="1.3" />
<line x1="451.70" y1="299.10" x2="451.70" y2="330.50" stroke="#ff0000" stroke-width="1.3" />
<line x1="448.00" y1="299.10" x2="455.40" y2="299.10" stroke="#ff0000" stroke-width="1.3" />
<line x1="448.00" y1="330.50" x2="455.40" y2="330.50" stroke="#ff0000" stroke-width="1.3" />
<line x1="492.00" y1="294.80" x2="492.00" y2="330.30" stroke="#ff0000" stroke-width="1.3" />
<line x1="488.30" y1="294.80" x2="495.70" y2="294.80" stroke="#ff0000" stroke-width="1.3" />
<line x1="488.30" y1="330.30" x2="495.70" y2="330.30" stroke="#ff0000" stroke-width="1.3" />
<line x1="505.30" y1="295.60" x2="505.30" y2="332.00" stroke="#ff0000" stroke-width="1.3" />
<line x1="501.60" y1="295.60" x2="509.00" y2="295.60" stroke="#ff0000" stroke-width="1.3" />
<line x1="501.60" y1="332.00" x2="509.00" y2="332.00" stroke="#ff0000" stroke-width="1.3" />
<line x1="523.60" y1="295.90" x2="523.60" y2="327.70" stroke="#ff0000" stroke-width="1.3" />
<line x1="519.90" y1="295.90" x2="527.30" y2="295.90" stroke="#ff0000" stroke-width="1.3" />
<line x1="519.90" y1="327.70" x2="527.30" y2="327.70" stroke="#ff0000" stroke-width="1.3" />
<line x1="539.50" y1="292.20" x2="539.50" y2="308.90" stroke="#ff0000" stroke-width="1.3" />
<line x1="535.80" y1="292.20" x2="543.20" y2="292.20" stroke="#ff0000" stroke-width="1.3" />
<line x1="535.80" y1="308.90" x2="543.20" y2="308.90" stroke="#ff0000" stroke-width="1.3" />
<line x1="550.60" y1="287.00" x2="550.60" y2="329.20" stroke="#ff0000" stroke-width="1.3" />
<line x1="546.90" y1="287.00" x2="554.30" y2="287.00" stroke="#ff0000" stroke-width="1.3" />
<line x1="546.90" y1="329.20" x2="554.30" y2="329.20" stroke="#ff0000" stroke-width="1.3" />
<line x1="560.80" y1="298.40" x2="560.80" y2="336.60" stroke="#ff0000" stroke-width="1.3" />
<line x1="557.10" y1="298.40" x2="564.50" y2="298.40" stroke="#ff0000" stroke-width="1.3" />
<line x1="557.10" y1="336.60" x2="564.50" y2="336.60" stroke="#ff0000" stroke-width="1.3" />
<line x1="574.70" y1="296.40" x2="574.70" y2="331.90" stroke="#ff0000" stroke-width="1.3" />
<line x1="571.00" y1="296.40" x2="578.40" y2="296.40" stroke="#ff0000" stroke-width="1.3" />
<line x1="571.00" y1="331.90" x2="578.40" y2="331.90" stroke="#ff0000" stroke-width="1.3" />
<line x1="589.70" y1="298.80" x2="589.70" y2="312.00" stroke="#ff0000" stroke-width="1.3" />
<line x1="586.00" y1="298.80" x2="593.40" y2="298.80" stroke="#ff0000" stroke-width="1.3" />
<line x1="586.00" y1="312.00" x2="593.40" y2="312.00" stroke="#ff0000" stroke-width="1.3" />
<line x1="598.30" y1="294.80" x2="598.30" y2="327.70" stroke="#ff0000" stroke-width="1.3" />
<line x1="594.60" y1="294.80" x2="602.00" y2="294.80" stroke="#ff0000" stroke-width="1.3" />
<line x1="594.60" y1="327.70" x2="602.00" y2="327.70" stroke="#ff0000" stroke-width="1.3" />
<line x1="605.40" y1="293.50" x2="605.40" y2="315.50" stroke="#ff0000" stroke-width="1.3" />
<line x1="601.70" y1="293.50" x2="609.10" y2="293.50" stroke="#ff0000" stroke-width="1.3" />
<line x1="601.70" y1="315.50" x2="609.10" y2="315.50" stroke="#ff0000" stroke-width="1.3" />
<line x1="619.30" y1="307.30" x2="619.30" y2="330.00" stroke="#ff0000" stroke-width="1.3" />
<line x1="615.60" y1="307.30" x2="623.00" y2="307.30" stroke="#ff0000" stroke-width="1.3" />
<line x1="615.60" y1="330.00" x2="623.00" y2="330.00" stroke="#ff0000" stroke-width="1.3" />
<line x1="628.30" y1="299.30" x2="628.30" y2="321.30" stroke="#ff0000" stroke-width="1.3" />
<line x1="624.60" y1="299.30" x2="632.00" y2="299.30" stroke="#ff0000" stroke-width="1.3" />
<line x1="624.60" y1="321.30" x2="632.00" y2="321.30" stroke="#ff0000" stroke-width="1.3" />
<line x1="635.50" y1="299.30" x2="635.50" y2="314.10" stroke="#ff0000" stroke-width="1.3" />
<line x1="631.80" y1="299.30" x2="639.20" y2="299.30" stroke="#ff0000" stroke-width="1.3" />
<line x1="631.80" y1="314.10" x2="639.20" y2="314.10" stroke="#ff0000" stroke-width="1.3" />
<line x1="641.80" y1="301.50" x2="641.80" y2="326.70" stroke="#ff0000" stroke-width="1.3" />
<line x1="638.10" y1="301.50" x2="645.50" y2="301.50" stroke="#ff0000" stroke-width="1.3" />
<line x1="638.10" y1="326.70" x2="645.50" y2="326.70" stroke="#ff0000" stroke-width="1.3" />
<line x1="651.10" y1="299.30" x2="651.10" y2="334.80" stroke="#ff0000" stroke-width="1.3" />
<line x1="647.40" y1="299.30" x2="654.80" y2="299.30" stroke="#ff0000" stroke-width="1.3" />
<line x1="647.40" y1="334.80" x2="654.80" y2="334.80" stroke="#ff0000" stroke-width="1.3" />
<line x1="656.60" y1="294.50" x2="656.60" y2="336.60" stroke="#ff0000" stroke-width="1.3" />
<line x1="652.90" y1="294.50" x2="660.30" y2="294.50" stroke="#ff0000" stroke-width="1.3" />
<line x1="652.90" y1="336.60" x2="660.30" y2="336.60" stroke="#ff0000" stroke-width="1.3" />
<line x1="661.60" y1="300.30" x2="661.60" y2="323.20" stroke="#ff0000" stroke-width="1.3" />
<line x1="657.90" y1="300.30" x2="665.30" y2="300.30" stroke="#ff0000" stroke-width="1.3" />
<line x1="657.90" y1="323.20" x2="665.30" y2="323.20" stroke="#ff0000" stroke-width="1.3" />
<line x1="663.40" y1="296.70" x2="663.40" y2="322.80" stroke="#ff0000" stroke-width="1.3" />
<line x1="659.70" y1="296.70" x2="667.10" y2="296.70" stroke="#ff0000" stroke-width="1.3" />
<line x1="659.70" y1="322.80" x2="667.10" y2="322.80" stroke="#ff0000" stroke-width="1.3" />
<rect x="368.10" y="317.70" width="4.2" height="4.2" fill="#fff" stroke="#ff0000" stroke-width="1.3"/>
<rect x="384.80" y="306.80" width="4.2" height="4.2" fill="#fff" stroke="#ff0000" stroke-width="1.3"/>
<rect x="424.80" y="310.70" width="4.2" height="4.2" fill="#fff" stroke="#ff0000" stroke-width="1.3"/>
<rect x="449.60" y="312.30" width="4.2" height="4.2" fill="#fff" stroke="#ff0000" stroke-width="1.3"/>
<rect x="489.90" y="310.40" width="4.2" height="4.2" fill="#fff" stroke="#ff0000" stroke-width="1.3"/>
<rect x="503.20" y="311.50" width="4.2" height="4.2" fill="#fff" stroke="#ff0000" stroke-width="1.3"/>
<rect x="521.50" y="310.20" width="4.2" height="4.2" fill="#fff" stroke="#ff0000" stroke-width="1.3"/>
<rect x="537.40" y="298.70" width="4.2" height="4.2" fill="#fff" stroke="#ff0000" stroke-width="1.3"/>
<rect x="548.50" y="306.00" width="4.2" height="4.2" fill="#fff" stroke="#ff0000" stroke-width="1.3"/>
<rect x="558.70" y="315.10" width="4.2" height="4.2" fill="#fff" stroke="#ff0000" stroke-width="1.3"/>
<rect x="572.60" y="312.30" width="4.2" height="4.2" fill="#fff" stroke="#ff0000" stroke-width="1.3"/>
<rect x="587.60" y="302.90" width="4.2" height="4.2" fill="#fff" stroke="#ff0000" stroke-width="1.3"/>
<rect x="596.20" y="309.20" width="4.2" height="4.2" fill="#fff" stroke="#ff0000" stroke-width="1.3"/>
<rect x="603.30" y="303.00" width="4.2" height="4.2" fill="#fff" stroke="#ff0000" stroke-width="1.3"/>
<rect x="617.20" y="316.80" width="4.2" height="4.2" fill="#fff" stroke="#ff0000" stroke-width="1.3"/>
<rect x="626.20" y="307.90" width="4.2" height="4.2" fill="#fff" stroke="#ff0000" stroke-width="1.3"/>
<rect x="633.40" y="304.70" width="4.2" height="4.2" fill="#fff" stroke="#ff0000" stroke-width="1.3"/>
<rect x="639.70" y="312.00" width="4.2" height="4.2" fill="#fff" stroke="#ff0000" stroke-width="1.3"/>
<rect x="649.00" y="315.30" width="4.2" height="4.2" fill="#fff" stroke="#ff0000" stroke-width="1.3"/>
<rect x="654.50" y="313.10" width="4.2" height="4.2" fill="#fff" stroke="#ff0000" stroke-width="1.3"/>
<rect x="659.50" y="309.80" width="4.2" height="4.2" fill="#fff" stroke="#ff0000" stroke-width="1.3"/>
<rect x="661.30" y="307.30" width="4.2" height="4.2" fill="#fff" stroke="#ff0000" stroke-width="1.3"/>
<text x="373.40" y="232.20" font-size="14" font-weight="bold" text-anchor="start" fill="#000000" >d</text>
<text x="475.60" y="441.50" font-size="15.5" font-weight="bold" text-anchor="start" fill="#000000" >Time (hours)</text>
<text transform="translate(331.50,353.30) rotate(-90) scale(1,1.0)" font-size="16.1" fill="#000000"><tspan font-family="Liberation Serif">&#916;</tspan><tspan font-weight="bold">IL</tspan><tspan font-family="Liberation Serif">&#960;</tspan><tspan font-weight="bold"> (dB)</tspan></text>
</svg>
</body></html>
